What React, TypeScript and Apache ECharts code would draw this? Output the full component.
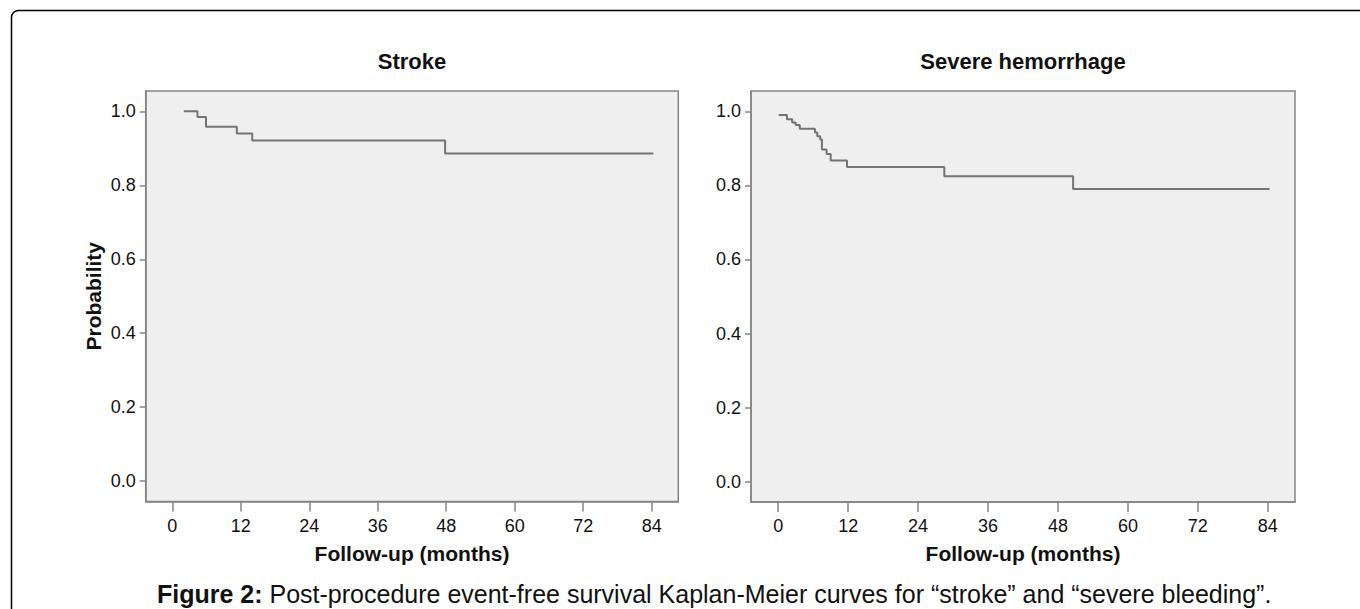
import React, { useEffect, useRef } from "react";
import * as echarts from "echarts";

const panelTitles = ["Stroke", "Severe hemorrhage"];
const xTicks = [0, 12, 24, 36, 48, 60, 72, 84];
const yTicks = [0, 0.2, 0.4, 0.6, 0.8, 1.0];

const strokeMonths = [2, 4.4, 5.9, 11.3, 14, 47.8, 84.3];
const strokeProb = [1.0, 0.985, 0.958, 0.94, 0.921, 0.886, 0.886];

const hemMonths = [0.1, 1.5, 2.4, 3.0, 3.7, 6.3, 6.7, 7.2, 7.5, 8.3, 9.0, 11.8, 28.5, 50.6, 84.3];
const hemProb = [0.99, 0.979, 0.97, 0.963, 0.953, 0.943, 0.933, 0.924, 0.897, 0.885, 0.867, 0.85, 0.825, 0.79, 0.79];

const xName = "Follow-up (months)";
const yName = "Probability";
const captionBold = "Figure 2:";
const captionText = " Post-procedure event-free survival Kaplan-Meier curves for \u201cstroke\u201d and \u201csevere bleeding\u201d.";

const FONT = "'Liberation Sans', Arial, Helvetica, sans-serif";
const AXIS_GRAY = "#858585";
const LINE_GRAY = "#747474";

export default function App() {
  const ref = useRef<HTMLDivElement>(null);
  useEffect(() => {
    if (!ref.current) return;
    const chart = echarts.init(ref.current, null, { renderer: "svg" });
    const grids = [
      { left: 145.7, top: 91, width: 532.6, height: 410.5 },
      { left: 751, top: 91, width: 544, height: 411 },
    ];
    const makeX = (i: number) => ({
      type: "value",
      gridIndex: i,
      min: -4.67,
      max: 88.67,
      name: xName,
      nameLocation: "middle",
      nameGap: 41,
      nameTextStyle: { fontFamily: FONT, fontSize: 21, fontWeight: "bold", color: "#111" },
      splitLine: { show: false },
      axisLine: { show: true, onZero: false, lineStyle: { color: AXIS_GRAY, width: 1.5 } },
      axisTick: { show: true, length: 10, customValues: xTicks, lineStyle: { color: AXIS_GRAY, width: 1.5 } },
      axisLabel: {
        customValues: xTicks,
        margin: 15,
        fontFamily: FONT,
        fontSize: 18,
        color: "#111",
      },
    });
    const makeY = (i: number) => ({
      type: "value",
      gridIndex: i,
      min: -0.055,
      max: 1.055,
      name: i === 0 ? yName : "",
      nameLocation: "middle",
      nameGap: 42,
      nameTextStyle: { fontFamily: FONT, fontSize: 21, fontWeight: "bold", color: "#111" },
      splitLine: { show: false },
      axisLine: { show: true, onZero: false, lineStyle: { color: AXIS_GRAY, width: 1.5 } },
      axisTick: { show: true, length: 6, customValues: yTicks, lineStyle: { color: AXIS_GRAY, width: 1.5 } },
      axisLabel: {
        customValues: yTicks,
        margin: 10,
        fontFamily: FONT,
        fontSize: 18,
        color: "#111",
        formatter: (v: number) => v.toFixed(1),
      },
    });
    const seriesData = [
      strokeMonths.map((m, k) => [m, strokeProb[k]]),
      hemMonths.map((m, k) => [m, hemProb[k]]),
    ];
    chart.setOption({
      animation: false,
      backgroundColor: "#ffffff",
      grid: grids.map((g) => ({
        ...g,
        show: true,
        backgroundColor: "#efefef",
        borderColor: AXIS_GRAY,
        borderWidth: 1.5,
        containLabel: false,
      })),
      xAxis: [makeX(0), makeX(1)],
      yAxis: [makeY(0), makeY(1)],
      series: seriesData.map((d, i) => ({
        type: "line",
        xAxisIndex: i,
        yAxisIndex: i,
        step: "end",
        symbol: "none",
        data: d,
        lineStyle: { color: LINE_GRAY, width: 2 },
      })),
      graphic: [
        {
          type: "rect",
          z: -1,
          shape: { x: 11.5, y: 10.5, width: 1420, height: 700, r: 7 },
          style: { fill: "none", stroke: "#000", lineWidth: 1.5 },
        },
        ...panelTitles.map((t, i) => ({
          type: "text",
          x: grids[i].left + grids[i].width / 2,
          y: 61,
          style: {
            text: t,
            textAlign: "center",
            textVerticalAlign: "middle",
            font: `bold 22px ${FONT}`,
            fill: "#111",
          },
        })),
        {
          type: "text",
          x: 157,
          y: 594,
          style: {
            text: `{b|${captionBold}}{r|${captionText}}`,
            textVerticalAlign: "middle",
            rich: {
              b: { fontFamily: FONT, fontSize: 25, fontWeight: "bold", fill: "#111" },
              r: { fontFamily: FONT, fontSize: 25, fill: "#111" },
            },
          },
        },
      ],
    });
    return () => chart.dispose();
  }, []);
  return (
    <div
      ref={ref}
      style={{ position: "absolute", left: 0, top: 0, width: 1360, height: 609 }}
    />
  );
}
